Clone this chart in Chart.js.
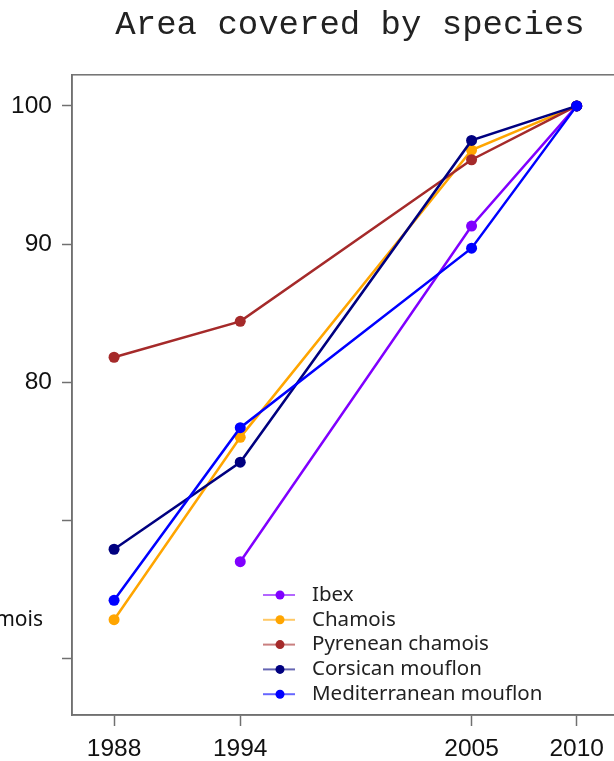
<!DOCTYPE html>
<html>
<head>
<meta charset="utf-8">
<script src="https://cdn.jsdelivr.net/npm/chart.js@4"></script>
<style>
  html, body { margin: 0; padding: 0; background: #fff; overflow: hidden; }
  #wrap { width: 614px; height: 761px; overflow: hidden; }
</style>
</head>
<body>
<div id="wrap"><canvas id="chart" width="700" height="761"></canvas></div>
<script>
const years = [1988, 1994, 2005, 2010];
const yTicks = [60, 70, 80, 90, 100];
const yTickLabels = ["", "", "80", "90", "100"];

const species = ["Ibex", "Chamois", "Pyrenean chamois", "Corsican mouflon", "Mediterranean mouflon"];
const ibex = [null, 67.0, 91.3, 100];
const chamois = [62.8, 76.0, 96.8, 100];
const pyrenean = [81.8, 84.4, 96.1, 100];
const corsican = [67.9, 74.2, 97.5, 100];
const mediterranean = [64.2, 76.7, 89.7, 100];
const colors = ["#8000ff", "#ffa500", "#a52a2a", "#000080", "#0000ff"];

const series = [ibex, chamois, pyrenean, corsican, mediterranean];

const datasets = series.map((vals, i) => ({
  label: species[i],
  data: vals.map((v, j) => ({ x: years[j], y: v })),
  borderColor: colors[i],
  backgroundColor: colors[i],
  borderWidth: 2.5,
  pointRadius: 5.5,
  pointHoverRadius: 5.5,
  pointBorderWidth: 0,
  order: series.length - i
}));

// box round the plot + cut-off side label
const boxPlugin = {
  id: "box",
  afterDraw(chart) {
    const { ctx, chartArea: a } = chart;
    ctx.save();
    ctx.strokeStyle = "#707070";
    ctx.lineWidth = 1.5;
    ctx.strokeRect(a.left, a.top, a.right - a.left, a.bottom - a.top);
    ctx.fillStyle = "#111";
    ctx.font = "21px 'Noto Sans'";
    ctx.textAlign = "right";
    ctx.textBaseline = "middle";
    ctx.fillText("Chamois", 43, 620);
    ctx.restore();
  }
};

// legend inside the plot
const insideLegend = {
  id: "insideLegend",
  afterDraw(chart) {
    const { ctx } = chart;
    ctx.save();
    ctx.font = "20.5px 'Noto Sans'";
    ctx.textBaseline = "middle";
    chart.data.datasets.forEach((ds, i) => {
      const y = 595 + i * 24.8;
      ctx.globalAlpha = 0.6;
      ctx.strokeStyle = ds.borderColor;
      ctx.lineWidth = 2;
      ctx.beginPath();
      ctx.moveTo(263, y);
      ctx.lineTo(295, y);
      ctx.stroke();
      ctx.globalAlpha = 1;
      ctx.fillStyle = ds.borderColor;
      ctx.beginPath();
      ctx.arc(280, y, 4.5, 0, Math.PI * 2);
      ctx.fill();
      ctx.fillStyle = "#222";
      ctx.fillText(ds.label, 312, y);
    });
    ctx.restore();
  }
};

new Chart(document.getElementById("chart"), {
  type: "line",
  data: { datasets },
  plugins: [boxPlugin, insideLegend],
  options: {
    responsive: false,
    animation: false,
    devicePixelRatio: 1,
    layout: { padding: 0 },
    plugins: {
      legend: { display: false },
      tooltip: { enabled: false },
      title: {
        display: true,
        text: "Area covered by species",
        color: "#222",
        font: { family: "'Liberation Mono', 'Courier New', monospace", size: 34, weight: "normal" },
        padding: { top: 5, bottom: 29 }
      }
    },
    scales: {
      x: {
        type: "linear",
        min: 1986,
        max: 2015.6,
        afterFit(s) { s.height = 46; },
        afterBuildTicks(s) { s.ticks = years.map(v => ({ value: v })); },
        grid: { drawOnChartArea: false, drawTicks: true, tickLength: 11, tickColor: "#707070", tickWidth: 1.5 },
        border: { color: "#707070", width: 1.5 },
        ticks: {
          color: "#111",
          padding: 9,
          maxRotation: 0,
          font: { family: "'Liberation Sans', Arial, sans-serif", size: 24.5 },
          callback: v => String(v)
        }
      },
      y: {
        min: 55.9,
        max: 102.25,
        afterFit(s) { s.width = 72; },
        afterBuildTicks(s) { s.ticks = yTicks.map(v => ({ value: v })); },
        grid: { drawOnChartArea: false, drawTicks: true, tickLength: 10, tickColor: "#707070", tickWidth: 1.5 },
        border: { color: "#707070", width: 1.5 },
        ticks: {
          color: "#111",
          padding: 10,
          font: { family: "'Liberation Sans', Arial, sans-serif", size: 24.5 },
          callback: v => yTickLabels[yTicks.indexOf(v)]
        }
      }
    }
  }
});
</script>
</body>
</html>
